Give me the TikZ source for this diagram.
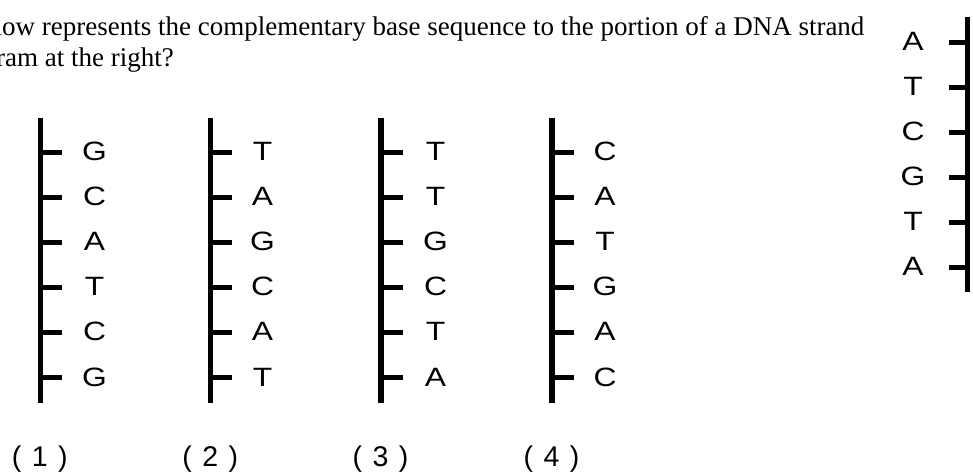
\documentclass[tikz,border=0pt]{standalone}
\usepackage{fontspec}
\setmainfont{Liberation Serif}
\newfontfamily\arialf{Liberation Sans}
\newfontfamily\arialw[FakeStretch=1.2]{Liberation Sans}
\begin{document}
\begin{tikzpicture}[x=1pt,y=-1pt,
  backbone/.style={line width=5.5pt},
  rung/.style={line width=5pt},
  base/.style={font=\arialw\fontsize{26.5}{26.5}\selectfont, inner sep=0pt, text height=19pt, text depth=0pt, anchor=center},
  choice/.style={font=\arialf\fontsize{28.5}{28.5}\selectfont, inner sep=0pt, anchor=base},
  qtext/.style={font=\fontsize{27}{31}\selectfont, inner sep=0pt, anchor=base west}]
\useasboundingbox (0,0) rectangle (973,474);
\clip (0,0) rectangle (973,474);
\node[qtext] (q1) at (-31,35) {below represents the complementary base sequence to the portion of a DNA strand};
\node[qtext] (q2) at (-50.5,66) {diagram at the right?};
% answer strands
\foreach \sx/\lx/\seq/\num in {40.3/94.5/{G,C,A,T,C,G}/1, 210.7/262.5/{T,A,G,C,A,T}/2, 381/435.5/{T,T,G,C,T,A}/3, 552/605/{C,A,T,G,A,C}/4}{
  \coordinate (top\num) at (\sx,118);
  \coordinate (bot\num) at (\sx,403);
  \draw[backbone] (top\num) -- (bot\num);
  \foreach \b [count=\i from 0] in \seq {
    \coordinate (r\num-\i) at (\sx,152+45.1*\i);
    \coordinate (e\num-\i) at (\sx+21.5,152+45.1*\i);
    \draw[rung] (r\num-\i) -- (e\num-\i);
    \node[base] (b\num-\i) at (\lx,151+45.1*\i) {\b};
  }
  \node[choice] (lab\num) at (\sx-0.5,466) {(\hspace{10.5pt}\num\hspace{10.5pt})};
}
% given strand
\coordinate (gtop) at (967.7,17);
\coordinate (gbot) at (967.7,292);
\draw[backbone] (gtop) -- (gbot);
\foreach \b [count=\i from 0] in {A,T,C,G,T,A}{
  \coordinate (gr\i) at (967.7,42+45*\i);
  \coordinate (ge\i) at (948.5,42+45*\i);
  \draw[rung] (gr\i) -- (ge\i);
  \node[base] (gb\i) at (913,41+45*\i) {\b};
}
\end{tikzpicture}
\end{document}
